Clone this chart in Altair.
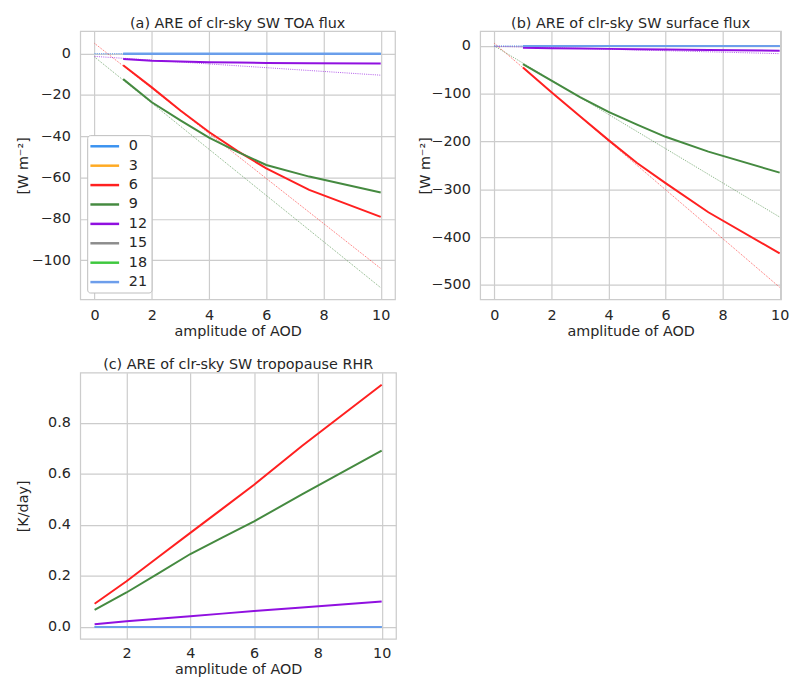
import altair as alt
import pandas as pd

FONT = "DejaVu Sans"
TXT = "#262626"
GRID = "#cccccc"

levels = ["0", "3", "6", "9", "12", "15", "18", "21"]
colors = ["#3a92f0", "#ffaa22", "#ff2020", "#458a40", "#9010e0", "#8c8c8c", "#3ec83e", "#6d9eeb"]

aod = [1, 2, 3, 4, 5, 6, 7.5, 10]
aod_fit = [0, 10]

# (a) TOA flux
toa_6 = [-5.6, -16.3, -27.5, -37.9, -47.2, -55.5, -65.9, -79.0]
toa_9 = [-12.3, -23.5, -32.3, -40.6, -47.5, -53.9, -59.5, -67.2]
toa_12 = [-2.6, -3.4, -3.8, -4.1, -4.3, -4.5, -4.6, -4.7]
toa_fit_6 = [5.0, -104.0]
toa_fit_9 = [-1.6, -113.3]
toa_fit_12 = [-1.3, -10.4]

# (b) surface flux
sfc_6 = [-45, -97, -147, -197, -245, -287, -348, -434]
sfc_9 = [-38, -72.6, -107, -138, -164.6, -190, -221, -265]
sfc_12 = [-3.5, -4.5, -5.3, -6.0, -6.8, -7.5, -8.4, -9.7]
sfc_fit_6 = [5.5, -505.0]
sfc_fit_9 = [0.0, -358.0]
sfc_fit_12 = [-0.5, -16.0]

# (c) tropopause RHR
rhr_6 = [0.091, 0.179, 0.274, 0.369, 0.463, 0.558, 0.71, 0.95]
rhr_9 = [0.067, 0.135, 0.21, 0.286, 0.35, 0.414, 0.52, 0.692]
rhr_12 = [0.010, 0.022, 0.032, 0.042, 0.052, 0.062, 0.076, 0.10]

# series that stay at zero in every panel (drawn: 0 and 21 on top of each other)
zero_levels = ["0", "21"]


def long_df(xs, series):
    rows = []
    for lev in levels:
        vals = series.get(lev)
        if vals is None:
            if lev not in zero_levels:
                continue
            vals = [0.0] * len(xs)
        for x, v in zip(xs, vals):
            rows.append({"aod": x, "val": v, "level": lev})
    return pd.DataFrame(rows)


toa_df = long_df(aod, {"6": toa_6, "9": toa_9, "12": toa_12})
toa_fit_df = long_df(aod_fit, {"6": toa_fit_6, "9": toa_fit_9, "12": toa_fit_12})
sfc_df = long_df(aod, {"6": sfc_6, "9": sfc_9, "12": sfc_12})
sfc_fit_df = long_df(aod_fit, {"6": sfc_fit_6, "9": sfc_fit_9, "12": sfc_fit_12})
rhr_df = long_df(aod, {"6": rhr_6, "9": rhr_9, "12": rhr_12})

legend_a = alt.Legend(
    title=None, orient="none", legendX=7, legendY=105,
    symbolType="M-2.9,0L2.9,0", symbolSize=100, symbolStrokeWidth=2.5,
    symbolOffset=6.5, labelOffset=17, padding=4, rowPadding=4.6,
    labelFontSize=14.5, labelFont=FONT, labelColor=TXT,
    strokeColor="#bdbdbd", fillColor="#ffffff", cornerRadius=3,
)


def panel(df, fit_df, title, ytitle, xdom, xticks, ydom, yticks, yfmt, width, height, ext, legend,
          xlabpad=9, xtitpad=3):
    x = alt.X("aod:Q", scale=alt.Scale(domain=xdom, nice=False, zero=False),
              axis=alt.Axis(values=xticks, title="amplitude of AOD", format="d",
                            labelPadding=xlabpad, titlePadding=xtitpad))
    y = alt.Y("val:Q", scale=alt.Scale(domain=ydom, nice=False, zero=False),
              axis=alt.Axis(values=yticks, title=ytitle, format=yfmt,
                            minExtent=ext, maxExtent=ext, labelPadding=10, titlePadding=3))
    if legend is None:
        col = alt.Color("level:N", scale=alt.Scale(domain=levels, range=colors), sort=levels, legend=None)
    else:
        col = alt.Color("level:N", scale=alt.Scale(domain=levels, range=colors), sort=levels, legend=legend)
    solid = alt.Chart(df).mark_line(strokeWidth=2).encode(x=x, y=y, color=col)
    layers = []
    if fit_df is not None:
        dotted = alt.Chart(fit_df).mark_line(strokeWidth=1, strokeDash=[1, 1.2], opacity=0.7).encode(
            x=x, y=y,
            color=alt.Color("level:N", scale=alt.Scale(domain=levels, range=colors), sort=levels, legend=None))
        layers.append(dotted)
    layers.append(solid)
    out = alt.layer(*layers)
    if fit_df is not None:
        out = out.resolve_scale(color="independent").resolve_legend(color="independent")
    return out.properties(
        width=width, height=height,
        title=alt.TitleParams(title, fontSize=14.5, fontWeight="normal", offset=0, color=TXT, font=FONT),
    )


a = panel(toa_df, toa_fit_df, "(a) ARE of clr-sky SW TOA flux", "[W m\u207b\u00b2]",
          [-0.5, 10.5], [0, 2, 4, 6, 8, 10], [-119, 10.9], [0, -20, -40, -60, -80, -100], "d",
          318, 271, 47, legend_a)
b = panel(sfc_df, sfc_fit_df, "(b) ARE of clr-sky SW surface flux", "[W m\u207b\u00b2]",
          [-0.5, 10.05], [0, 2, 4, 6, 8, 10], [-530.5, 31], [0, -100, -200, -300, -400, -500], "d",
          304, 271, 45, None)
c = panel(rhr_df, None, "(c) ARE of clr-sky SW tropopause RHR", "[K/day]",
          [0.55, 10.45], [2, 4, 6, 8, 10], [-0.0475, 0.9975], [0, 0.2, 0.4, 0.6, 0.8], ".1f",
          319, 269, 47, None, xlabpad=8, xtitpad=2.5)

top = alt.hconcat(a, b, spacing=21).resolve_scale(x="independent", y="independent", color="independent").resolve_legend(color="independent")
chart = alt.vconcat(top, c, spacing=17).resolve_scale(x="independent", y="independent", color="independent").resolve_legend(color="independent")

chart = chart.properties(
    padding={"left": 7, "top": 3, "right": 0, "bottom": 0},
    background="white",
).configure_view(
    stroke=GRID, strokeWidth=1.25,
).configure_axis(
    grid=True, gridColor=GRID, gridWidth=1.2, ticks=False, domain=False,
    labelFont=FONT, titleFont=FONT, labelFontSize=14.5, titleFontSize=14.5,
    labelColor=TXT, titleColor=TXT, titleFontWeight="normal",
).configure_title(font=FONT, color=TXT)

chart.save("out.html", embed_options={"renderer": "svg", "actions": False})
